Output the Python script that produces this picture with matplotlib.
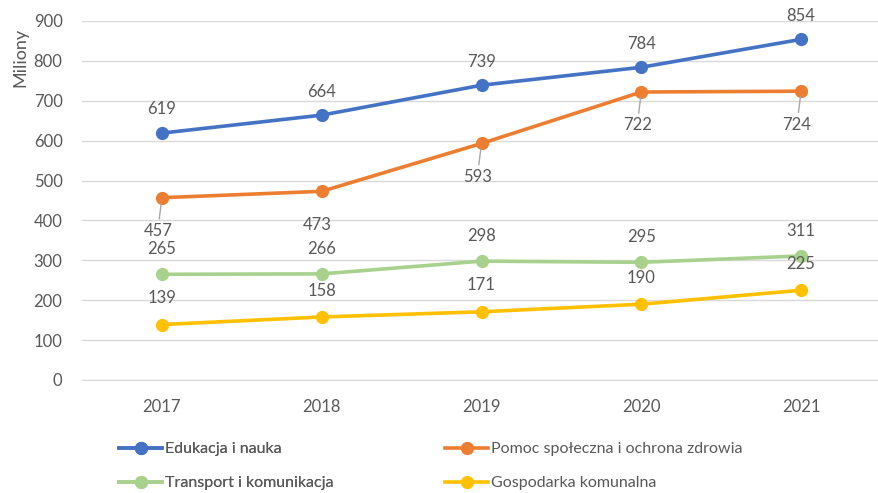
import matplotlib.pyplot as plt

plt.rcParams['font.family'] = ['Lato', 'DejaVu Sans']

years = ['2017', '2018', '2019', '2020', '2021']
edukacja = [619, 664, 739, 784, 854]
pomoc = [457, 473, 593, 722, 724]
transport = [265, 266, 298, 295, 311]
gospodarka = [139, 158, 171, 190, 225]

series = [
    ('Edukacja i nauka', edukacja, '#4472C4', (0, 17), False),
    ('Pomoc społeczna i ochrona zdrowia', pomoc, '#ED7D31', (-3, -24), True),
    ('Transport i komunikacja', transport, '#A9D18E', (0, 18), False),
    ('Gospodarka komunalna', gospodarka, '#FFC000', (0, 19), False),
]

text_color = '#595959'

fig = plt.figure(figsize=(8.79, 4.93), dpi=100)
ax = fig.add_axes([82 / 879, 113 / 493, 799 / 879, 359 / 493])

x = list(range(len(years)))
handles = {}
for name, vals, color, off, leader in series:
    h, = ax.plot(x, vals, color=color, linewidth=2.6, marker='o',
                 markersize=8.5, label=name, zorder=3)
    handles[name] = h
    for xi, v in zip(x, vals):
        if leader and v != 473:
            ax.annotate(str(v), (xi, v), xytext=off, textcoords='offset points',
                        ha='center', va='center', fontsize=12, color=text_color,
                        arrowprops=dict(arrowstyle='-', color='#A6A6A6',
                                        linewidth=1, shrinkA=1, shrinkB=4))
        else:
            ax.annotate(str(v), (xi, v), xytext=off, textcoords='offset points',
                        ha='center', va='center', fontsize=12, color=text_color)

ax.set_xlim(-0.5, len(years) - 0.5)
ax.set_ylim(0, 900)
ax.set_yticks(range(0, 901, 100))
ax.set_xticks(x)
ax.set_xticklabels(years)
ax.tick_params(axis='both', length=0, labelsize=12, labelcolor=text_color)
ax.tick_params(axis='x', pad=14)
ax.tick_params(axis='y', pad=14)
ax.grid(axis='y', color='#D9D9D9', linewidth=1)
ax.set_axisbelow(True)
for s in ['top', 'right', 'left']:
    ax.spines[s].set_visible(False)
ax.spines['bottom'].set_color('#D9D9D9')

fig.text(20 / 879, 1 - 57 / 493, 'Miliony', rotation=90, ha='center', va='center',
         fontsize=13, color=text_color)

leg_kw = dict(loc='upper left', frameon=False, fontsize=11.5, handlelength=2.7,
              handletextpad=0.2, labelspacing=1.25, labelcolor=text_color,
              borderaxespad=0, borderpad=0)
leg1 = fig.legend([handles['Edukacja i nauka'], handles['Transport i komunikacja']],
                  ['Edukacja i nauka', 'Transport i komunikacja'],
                  bbox_to_anchor=(119 / 879, 1 - 442 / 493), **leg_kw)
fig.add_artist(leg1)
fig.legend([handles['Pomoc społeczna i ochrona zdrowia'], handles['Gospodarka komunalna']],
           ['Pomoc społeczna i ochrona zdrowia', 'Gospodarka komunalna'],
           bbox_to_anchor=(445 / 879, 1 - 442 / 493), **leg_kw)

fig.savefig('out.png', dpi=100)
